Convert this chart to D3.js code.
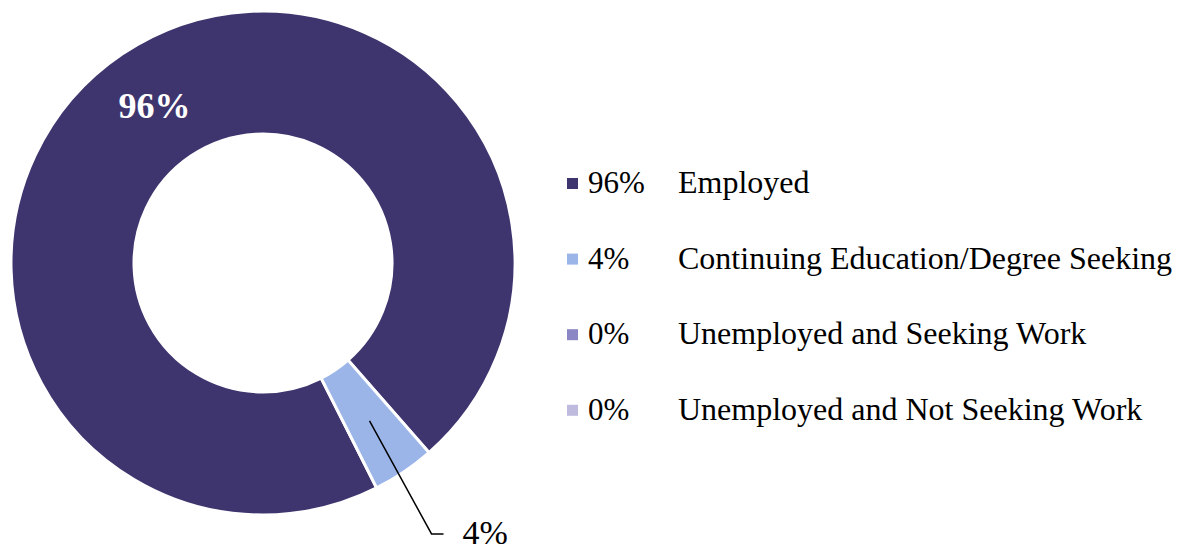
<!DOCTYPE html>
<html>
<head>
<meta charset="utf-8">
<script src="https://cdn.jsdelivr.net/npm/d3@7"></script>
<style>
  html, body { margin: 0; padding: 0; background: #fff; }
  svg { display: block; }
</style>
</head>
<body>
<svg id="chart" width="1183" height="548"></svg>
<script>
// Post-graduation outcomes
const categories = ["Employed", "Continuing Education/Degree Seeking", "Unemployed and Seeking Work", "Unemployed and Not Seeking Work"];
const values = [96, 4, 0, 0];
const colors = ["#3E356E", "#9BB5E8", "#8B86C4", "#BEBBDE"];

const FONT = "'Liberation Serif', 'Times New Roman', Times, 'DejaVu Serif', serif";

const svg = d3.select("#chart").attr("font-family", FONT);
const cx = 263, cy = 263, outerR = 252, innerR = 129;
const start = 153.2 * Math.PI / 180;

const pie = d3.pie().sort(null).value(d => d.value)
  .startAngle(start).endAngle(start + 2 * Math.PI);
const data = categories.map((c, i) => ({ name: c, value: values[i], color: colors[i] }));
const arcs = pie(data);
const arc = d3.arc().innerRadius(innerR).outerRadius(outerR);

const g = svg.append("g").attr("transform", `translate(${cx},${cy})`);
g.selectAll("path.slice")
  .data(arcs.filter(a => a.data.value > 0))
  .join("path")
  .attr("class", "slice")
  .attr("d", arc)
  .attr("fill", d => d.data.color)
  .attr("stroke", "#fff")
  .attr("stroke-width", 3)
  .attr("stroke-linejoin", "miter");

const pct = v => `${v}%`;

// Inside label for the large slice
const big = arcs[0];
const [bx, by] = arc.centroid(big);
g.append("text")
  .attr("x", bx - 2).attr("y", by)
  .attr("text-anchor", "middle")
  .attr("dy", "0.35em")
  .attr("font-family", FONT)
  .attr("font-size", 36)
  .attr("font-weight", "bold")
  .attr("fill", "#fff")
  .text(pct(big.data.value));

// Callout label for the small slice
const small = arcs[1];
const [sx, sy] = arc.centroid(small);
const elbow = [sx + 62, sy + 113];
const end = [elbow[0] + 12, elbow[1]];
g.append("path")
  .attr("d", d3.line()([[sx, sy], elbow, end]))
  .attr("fill", "none")
  .attr("stroke", "#000")
  .attr("stroke-width", 1.5);
g.append("text")
  .attr("x", end[0] + 19).attr("y", end[1])
  .attr("dy", "0.3em")
  .attr("font-family", FONT)
  .attr("font-size", 34)
  .attr("fill", "#000")
  .text(pct(small.data.value));

// Legend
const legend = svg.append("g").attr("transform", "translate(567,193)");
const rowH = 75.6;
const rows = legend.selectAll("g.row").data(data).join("g")
  .attr("class", "row")
  .attr("transform", (d, i) => `translate(0,${i * rowH})`);
rows.append("rect")
  .attr("x", 0).attr("y", -15)
  .attr("width", 11).attr("height", 11)
  .attr("fill", d => d.color);
rows.append("text")
  .attr("x", 21).attr("y", 0)
  .attr("font-family", FONT)
  .attr("font-size", 31)
  .attr("fill", "#000")
  .text(d => pct(d.value));
rows.append("text")
  .attr("x", 111).attr("y", 0)
  .attr("font-family", FONT)
  .attr("font-size", 32)
  .attr("fill", "#000")
  .text(d => d.name);
</script>
</body>
</html>
